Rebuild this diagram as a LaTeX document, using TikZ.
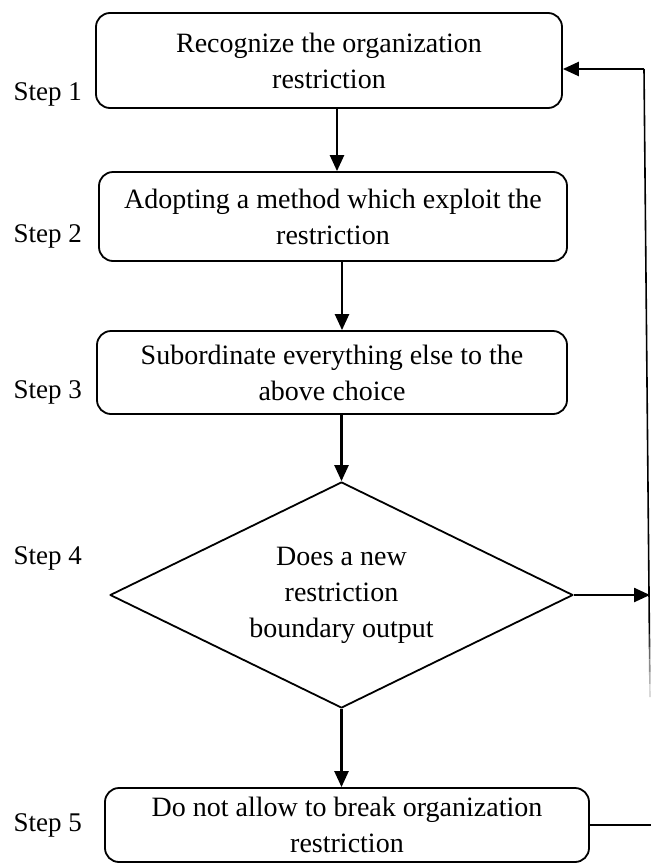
\documentclass[tikz,border=0pt]{standalone}
\usepackage{fontspec}
\setmainfont{Liberation Serif}
\usetikzlibrary{shapes.geometric,arrows.meta,calc}

\begin{document}
\begin{tikzpicture}[x=1pt, y=-1pt, line join=round,
    stepbox/.style={draw, rounded corners=14pt, line width=1.8pt, align=center,
        font=\fontsize{28}{36}\selectfont, inner sep=0pt},
    decision/.style={draw, diamond, aspect=2.05, line width=1.8pt, align=center,
        font=\fontsize{28}{36}\selectfont, inner sep=0pt,
        minimum width=463pt, minimum height=226pt},
    steplabel/.style={anchor=west, font=\fontsize{27}{32}\selectfont},
    arrow/.style={line width=2.4pt, -{Triangle[length=16pt, width=14pt]}},
    loop/.style={line width=1.6pt}]

    \useasboundingbox (0,0) rectangle (651,865);

    % boxes of the chart
    \node[stepbox, minimum width=466pt, minimum height=95pt] (recognize) at (329,60.5)
        {Recognize the organization\\restriction};
    \node[stepbox, minimum width=468pt, minimum height=89pt] (adopt) at (333,216.5)
        {Adopting a method which exploit the\\restriction};
    \node[stepbox, minimum width=470pt, minimum height=83pt] (subordinate) at (332,372.5)
        {Subordinate everything else to the\\above choice};
    \node[decision] (newrestr) at (341.5,595)
        {Does a new\\restriction\\boundary output};
    \node[stepbox, minimum width=484pt, minimum height=74pt] (forbid) at (347,825)
        {Do not allow to break organization\\restriction};

    % step names on the left
    \foreach \n/\y in {1/94, 2/236, 3/392, 4/558, 5/825} {
        \node[steplabel] (step\n) at (10,\y) {Step \n};
    }

    % downward arrows
    \draw[arrow] ([xshift=8pt]recognize.south) -- ([xshift=8pt]recognize.south |- adopt.north);
    \draw[arrow] ([xshift=9pt]adopt.south) -- ([xshift=9pt]adopt.south |- subordinate.north);
    \draw[arrow] (newrestr.north |- subordinate.south) -- (newrestr.north);
    \draw[arrow] (newrestr.south) -- (newrestr.south |- forbid.north);

    % feedback line on the right
    \coordinate (looptop) at (644,69);
    \coordinate (loopbottom) at (650,697);
    \coordinate (loopend) at (651,822);

    \draw[arrow] (newrestr.east) -- (newrestr.east -| loopbottom);
    \draw[loop] (forbid.east) -- (forbid.east -| loopend);
    \draw[loop] (looptop) -- ($(looptop)!0.9!(loopbottom)$);
    \foreach \t/\g in {0.9/80, 0.92/60, 0.94/45, 0.96/30, 0.98/15} {
        \draw[loop, black!\g] ($(looptop)!\t!(loopbottom)$) -- ($(looptop)!\t+0.02!(loopbottom)$);
    }
    \draw[arrow] (looptop) -- (looptop -| recognize.east);

\end{tikzpicture}
\end{document}
